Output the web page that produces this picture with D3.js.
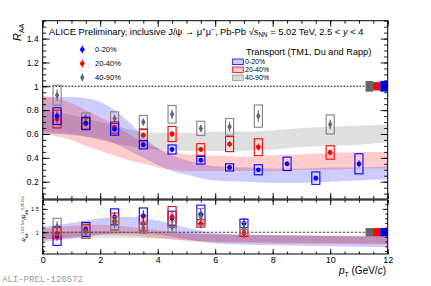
<!DOCTYPE html>
<html>
<head>
<meta charset="utf-8">
<script src="https://cdn.jsdelivr.net/npm/d3@7"></script>
<style>
  body { margin: 0; background: #fff; }
  svg { display: block; font-family: "Liberation Sans", Arial, sans-serif; }
</style>
</head>
<body>
<div id="chart"></div>
<script>
// --- data ---

const ptBlue = [0.5, 1.5, 2.5, 3.5, 4.5, 5.5, 6.5, 7.5, 8.5, 9.5, 11];
const raaBlue = [0.75, 0.69, 0.64, 0.51, 0.47, 0.38, 0.32, 0.30, 0.35, 0.23, 0.35];
const statBlue = [0.04, 0.02, 0.02, 0.015, 0.015, 0.015, 0.015, 0.015, 0.02, 0.02, 0.03];
const sysBlue = [0.07, 0.05, 0.05, 0.035, 0.038, 0.032, 0.03, 0.042, 0.056, 0.052, 0.084];

const ptRed = [0.5, 1.5, 2.5, 3.5, 4.5, 5.5, 6.5, 7.5, 10];
const raaRed = [0.725, 0.685, 0.655, 0.59, 0.60, 0.47, 0.515, 0.49, 0.445];
const statRed = [0.04, 0.02, 0.02, 0.02, 0.025, 0.02, 0.025, 0.03, 0.025];
const sysRed = [0.074, 0.05, 0.048, 0.049, 0.063, 0.049, 0.063, 0.07, 0.056];

const ptGray = [0.5, 1.5, 2.5, 3.5, 4.5, 5.5, 6.5, 7.5, 10];
const raaGray = [0.925, 0.735, 0.73, 0.70, 0.765, 0.647, 0.66, 0.75, 0.68];
const statGray = [0.05, 0.03, 0.03, 0.03, 0.04, 0.03, 0.04, 0.05, 0.04];
const sysGray = [0.084, 0.042, 0.056, 0.056, 0.074, 0.06, 0.07, 0.093, 0.08];

// transport model bands (TM1, Du and Rapp)
const bandPt = [0, 0.5, 1, 1.5, 2, 2.5, 3, 3.5, 4, 4.5, 5, 5.5, 6, 7, 8, 9, 10, 11, 12];
const bandBlueLo = [0.60, 0.60, 0.59, 0.58, 0.56, 0.52, 0.46, 0.40, 0.34, 0.29, 0.26, 0.23, 0.21, 0.20, 0.19, 0.19, 0.20, 0.21, 0.22];
const bandBlueHi = [0.90, 0.91, 0.91, 0.90, 0.87, 0.80, 0.70, 0.58, 0.48, 0.42, 0.38, 0.35, 0.33, 0.32, 0.31, 0.31, 0.32, 0.32, 0.33];
const bandRedLo = [0.60, 0.58, 0.55, 0.50, 0.46, 0.42, 0.38, 0.35, 0.32, 0.30, 0.29, 0.29, 0.29, 0.29, 0.29, 0.30, 0.30, 0.31, 0.31];
const bandRedHi = [0.92, 0.90, 0.86, 0.80, 0.74, 0.67, 0.60, 0.53, 0.48, 0.45, 0.43, 0.42, 0.42, 0.41, 0.42, 0.43, 0.44, 0.45, 0.45];
const bandGrayLo = [0.62, 0.61, 0.60, 0.58, 0.55, 0.52, 0.50, 0.48, 0.47, 0.465, 0.46, 0.46, 0.46, 0.46, 0.47, 0.49, 0.50, 0.51, 0.53];
const bandGrayHi = [0.80, 0.78, 0.76, 0.73, 0.70, 0.67, 0.64, 0.62, 0.61, 0.61, 0.61, 0.61, 0.62, 0.62, 0.63, 0.65, 0.66, 0.67, 0.68];

// ratio 5.02 / 2.76 TeV
const ptRatio = [0.5, 1.5, 2.5, 3.5, 4.5, 5.5, 7];
const ratioBlue = [0.92, 1.06, 1.33, 1.35, 1.30, 1.38, 1.19];
const ratioStatBlue = [0.10, 0.08, 0.10, 0.12, 0.10, 0.12, 0.12];
const ratioSysBlue = [0.20, 0.15, 0.17, 0.17, 0.15, 0.20, 0.09];
const ratioRed = [0.98, 1.02, 1.23, 1.19, 1.33, 1.19, 0.98];
const ratioStatRed = [0.10, 0.08, 0.10, 0.10, 0.12, 0.10, 0.10];
const ratioSysRed = [0.12, 0.15, 0.18, 0.16, 0.22, 0.08, 0.07];
const ratioGray = [1.12, 1.00, 1.19, 1.09, 1.12, 1.33, 1.09];
const ratioStatGray = [0.12, 0.08, 0.10, 0.10, 0.10, 0.12, 0.10];
const ratioSysGray = [0.18, 0.13, 0.14, 0.11, 0.12, 0.18, 0.12];

const ratioBandPt = [0, 1, 2, 3, 4, 5, 6, 8, 10, 12];
const ratioBlueLo = [0.80, 0.86, 0.95, 0.98, 0.95, 0.85, 0.76, 0.72, 0.70, 0.68];
const ratioBlueHi = [1.12, 1.20, 1.30, 1.33, 1.25, 1.10, 0.98, 0.94, 0.92, 0.90];
const ratioRedLo = [0.84, 0.90, 0.94, 0.93, 0.88, 0.82, 0.78, 0.76, 0.75, 0.74];
const ratioRedHi = [1.08, 1.14, 1.16, 1.12, 1.05, 0.98, 0.95, 0.93, 0.92, 0.91];
const ratioGrayLo = [0.85, 0.87, 0.88, 0.88, 0.86, 0.83, 0.80, 0.78, 0.77, 0.76];
const ratioGrayHi = [1.00, 1.01, 1.02, 1.01, 1.00, 0.98, 0.96, 0.94, 0.93, 0.92];

// global uncertainties (gray, red, blue) drawn at R = 1
const globalMain = [0.045, 0.035, 0.045];
const globalRatio = [0.09, 0.09, 0.09];

const legendLabels = ['0-20%', '20-40%', '40-90%'];

// --- layout ---
const W = 431, H = 286;
const L = 42.7, R = 387.7;
const mainTop = 20.7, mainBot = 199, ratTop = 200, ratBot = 254;

const BLUE = '#0000ff', RED = '#ff0000', GRAY = '#666666';

const x = d3.scaleLinear().domain([0, 12]).range([L, R]);
const yM = d3.scaleLinear().domain([0.055, 1.55]).range([mainBot, mainTop]);
const yR = d3.scaleLinear().domain([0.535, 1.69]).range([ratBot, ratTop]);

const svg = d3.select('#chart').append('svg').attr('width', W).attr('height', H);
const defs = svg.append('defs');
defs.append('clipPath').attr('id', 'clip-main').append('rect')
  .attr('x', L).attr('y', mainTop).attr('width', R - L).attr('height', mainBot - mainTop);
defs.append('clipPath').attr('id', 'clip-ratio').append('rect')
  .attr('x', L).attr('y', ratTop).attr('width', R - L).attr('height', ratBot - ratTop);

const gMain = svg.append('g').attr('clip-path', 'url(#clip-main)');
const gRat = svg.append('g').attr('clip-path', 'url(#clip-ratio)');

function drawBand(g, yS, pts, lo, hi, fill) {
  const area = d3.area().curve(d3.curveMonotoneX)
    .x((d, i) => x(pts[i])).y0((d, i) => yS(lo[i])).y1((d, i) => yS(hi[i]));
  g.append('path').datum(lo).attr('d', area).attr('fill', fill);
}

drawBand(gMain, yM, bandPt, bandGrayLo, bandGrayHi, 'rgba(150,150,150,0.3)');
drawBand(gMain, yM, bandPt, bandBlueLo, bandBlueHi, 'rgba(0,0,255,0.2)');
drawBand(gMain, yM, bandPt, bandRedLo, bandRedHi, 'rgba(255,0,0,0.2)');

drawBand(gRat, yR, ratioBandPt, ratioGrayLo, ratioGrayHi, 'rgba(150,150,150,0.3)');
drawBand(gRat, yR, ratioBandPt, ratioBlueLo, ratioBlueHi, 'rgba(0,0,255,0.2)');
drawBand(gRat, yR, ratioBandPt, ratioRedLo, ratioRedHi, 'rgba(255,0,0,0.2)');

// global uncertainty boxes at the right edge
const globalX = [[11.23, 11.49], [11.49, 11.74], [11.74, 12]];
const globalCol = [GRAY, RED, BLUE];
globalX.forEach(([a, b], i) => {
  gMain.append('rect').attr('x', x(a)).attr('width', x(b) - x(a))
    .attr('y', yM(1 + globalMain[i])).attr('height', yM(1 - globalMain[i]) - yM(1 + globalMain[i]))
    .attr('fill', globalCol[i]);
  gRat.append('rect').attr('x', x(a)).attr('width', x(b) - x(a))
    .attr('y', yR(1 + globalRatio[i])).attr('height', yR(1 - globalRatio[i]) - yR(1 + globalRatio[i]))
    .attr('fill', globalCol[i]);
});

// unity lines
gMain.append('line').attr('x1', x(0)).attr('x2', x(11.23)).attr('y1', yM(1)).attr('y2', yM(1))
  .attr('stroke', '#000').attr('stroke-width', 1.1).attr('stroke-dasharray', '1.6,1.6');
gRat.append('line').attr('x1', x(0)).attr('x2', x(11.23)).attr('y1', yR(1)).attr('y2', yR(1))
  .attr('stroke', '#333').attr('stroke-width', 0.9).attr('stroke-dasharray', '2.5,1.5');

function drawSeries(g, yS, pts, vals, stat, sys, col, shape, boxStroke) {
  const hw = 0.14;
  pts.forEach((p, i) => {
    g.append('rect').attr('x', x(p - hw)).attr('width', x(p + hw) - x(p - hw))
      .attr('y', yS(vals[i] + sys[i])).attr('height', yS(vals[i] - sys[i]) - yS(vals[i] + sys[i]))
      .attr('fill', 'none').attr('stroke', boxStroke).attr('stroke-width', 1.1);
  });
  pts.forEach((p, i) => {
    g.append('line').attr('x1', x(p)).attr('x2', x(p))
      .attr('y1', yS(vals[i] + stat[i])).attr('y2', yS(vals[i] - stat[i]))
      .attr('stroke', col).attr('stroke-width', 1);
  });
  g.selectAll(null).data(pts).join('path')
    .attr('transform', (d, i) => `translate(${x(d)},${yS(vals[i])})`)
    .attr('d', d3.symbol().type(shape).size(shape === d3.symbolDiamond ? 17 : 18))
    .attr('fill', col);
}

drawSeries(gMain, yM, ptGray, raaGray, statGray, sysGray, GRAY, d3.symbolDiamond, '#808080');
drawSeries(gMain, yM, ptRed, raaRed, statRed, sysRed, RED, d3.symbolCircle, RED);
drawSeries(gMain, yM, ptBlue, raaBlue, statBlue, sysBlue, BLUE, d3.symbolCircle, BLUE);

drawSeries(gRat, yR, ptRatio, ratioBlue, ratioStatBlue, ratioSysBlue, BLUE, d3.symbolCircle, BLUE);
drawSeries(gRat, yR, ptRatio, ratioRed, ratioStatRed, ratioSysRed, RED, d3.symbolCircle, RED);
drawSeries(gRat, yR, ptRatio, ratioGray, ratioStatGray, ratioSysGray, GRAY, d3.symbolDiamond, '#808080');

// --- frames and axes ---
[[mainTop, mainBot], [ratTop, ratBot]].forEach(([t, b]) => {
  svg.append('rect').attr('x', L).attr('y', t).attr('width', R - L).attr('height', b - t)
    .attr('fill', 'none').attr('stroke', '#000').attr('stroke-width', 1);
});

const noDomain = g => g.select('.domain').remove();
const xMajor = d3.range(0, 12.01, 2);
const xMinor = d3.range(0, 12.01, 0.5);

function xTicks(yPos, up, size) {
  const ax = up ? d3.axisTop(x) : d3.axisBottom(x);
  svg.append('g').attr('transform', `translate(0,${yPos})`)
    .call(ax.tickValues(xMinor).tickSize(size / 2).tickFormat('')).call(noDomain);
  svg.append('g').attr('transform', `translate(0,${yPos})`)
    .call(ax.tickValues(xMajor).tickSize(size).tickFormat('')).call(noDomain);
}
xTicks(mainBot, true, 6);
xTicks(mainTop, false, 6);
xTicks(ratTop, false, 5);

svg.append('g').attr('transform', `translate(0,${ratBot})`)
  .call(d3.axisTop(x).tickValues(xMinor).tickSize(2.5).tickFormat('')).call(noDomain);
svg.append('g').attr('class', 'xlab').attr('transform', `translate(0,${ratBot})`)
  .call(d3.axisBottom(x).tickValues(xMajor).tickSizeInner(-5).tickSizeOuter(0).tickPadding(2.5)
    .tickFormat(d3.format('d')))
  .call(noDomain);

function yTicks(yS, xPos, leftSide, major, minor, size) {
  const ax = leftSide ? d3.axisRight(yS) : d3.axisLeft(yS);
  svg.append('g').attr('transform', `translate(${xPos},0)`)
    .call(ax.tickValues(minor).tickSize(size / 2).tickFormat('')).call(noDomain);
  svg.append('g').attr('transform', `translate(${xPos},0)`)
    .call(ax.tickValues(major).tickSize(size).tickFormat('')).call(noDomain);
}
const yMainMajor = [0.2, 0.4, 0.6, 0.8, 1.0, 1.2, 1.4];
const yMainMinor = d3.range(0.1, 1.551, 0.05).map(v => +v.toFixed(2));
yTicks(yM, L, true, yMainMajor, yMainMinor, 7);
yTicks(yM, R, false, yMainMajor, yMainMinor, 7);

const yRatMajor = [1.0, 1.5];
const yRatMinor = d3.range(0.6, 1.69, 0.1).map(v => +v.toFixed(2));
yTicks(yR, L, true, yRatMajor, yRatMinor, 5);
yTicks(yR, R, false, yRatMajor, yRatMinor, 5);

// y tick labels
svg.append('g').attr('transform', `translate(${L},0)`)
  .call(d3.axisLeft(yM).tickValues(yMainMajor).tickSize(0).tickPadding(4)
    .tickFormat(d => d === 1 ? '1' : d3.format('.1f')(d)))
  .call(noDomain);
svg.append('g').attr('class', 'yrat').attr('transform', `translate(${L},0)`)
  .call(d3.axisLeft(yR).tickValues(yRatMajor).tickSize(0).tickPadding(4)
    .tickFormat(d => d === 1 ? '1' : d3.format('.1f')(d)))
  .call(noDomain);

svg.selectAll('.tick text').attr('fill', '#000').attr('font-family', '"Liberation Sans", Arial, sans-serif')
  .attr('font-size', 8.5);
svg.selectAll('.xlab .tick text').attr('font-size', 9);
svg.selectAll('.yrat .tick text').attr('font-size', 5.5);
svg.selectAll('.tick line').attr('stroke', '#000').attr('stroke-width', 0.9);

// --- titles ---
const yTitle = svg.append('text').attr('transform', 'translate(21,41) rotate(-90)')
  .attr('font-size', 11);
yTitle.append('tspan').attr('font-style', 'italic').text('R');
yTitle.append('tspan').attr('font-size', 7).attr('dy', 2.5).text('AA');

const rTitle = svg.append('text').attr('transform', 'translate(26,219) rotate(-90)')
  .attr('text-anchor', 'middle').attr('font-size', 5);
rTitle.append('tspan').attr('font-style', 'italic').text('R');
rTitle.append('tspan').attr('font-size', 3.5).attr('dy', 1.5).text('AA');
rTitle.append('tspan').attr('font-size', 3.5).attr('dy', -4).text('5.02 TeV');
rTitle.append('tspan').attr('dy', 2.5).text('/');
rTitle.append('tspan').attr('font-style', 'italic').text('R');
rTitle.append('tspan').attr('font-size', 3.5).attr('dy', 1.5).text('AA');
rTitle.append('tspan').attr('font-size', 3.5).attr('dy', -4).text('2.76 TeV');

const xTitle = svg.append('text').attr('x', 386).attr('y', 274).attr('text-anchor', 'end')
  .attr('font-size', 10);
xTitle.append('tspan').attr('font-style', 'italic').text('p');
xTitle.append('tspan').attr('font-size', 7).attr('dy', 2.5).text('T');
xTitle.append('tspan').attr('dy', -2.5).text(' (GeV/');
xTitle.append('tspan').attr('font-style', 'italic').text('c');
xTitle.append('tspan').text(')');

const head = svg.append('text').attr('x', 49).attr('y', 35).attr('font-size', 9.35);
head.append('tspan').text('ALICE Preliminary, inclusive J/ψ → μ');
head.append('tspan').attr('font-size', 6.3).attr('dy', -3).text('+');
head.append('tspan').attr('dy', 3).text('μ');
head.append('tspan').attr('font-size', 6.3).attr('dy', -3).text('−');
head.append('tspan').attr('dy', 3).text(', Pb-Pb √');
head.append('tspan').attr('font-style', 'italic').text('s');
head.append('tspan').attr('font-size', 6.3).attr('dy', 2).text('NN');
head.append('tspan').attr('dy', -2).text(' = 5.02 TeV, 2.5 < ');
head.append('tspan').attr('font-style', 'italic').text('y');
head.append('tspan').text(' < 4');

// marker legend
const markCol = [BLUE, RED, GRAY];
const markShape = [d3.symbolCircle, d3.symbolCircle, d3.symbolDiamond];
legendLabels.forEach((lab, i) => {
  const yy = 49.5 + i * 14;
  svg.append('line').attr('x1', 82.3).attr('x2', 82.3).attr('y1', yy - 4).attr('y2', yy + 4)
    .attr('stroke', markCol[i]).attr('stroke-width', 1);
  svg.append('path').attr('transform', `translate(82.3,${yy})`)
    .attr('d', d3.symbol().type(markShape[i]).size(17)).attr('fill', markCol[i]);
  svg.append('text').attr('x', 95).attr('y', yy + 2.6).attr('font-size', 7.5).text(lab);
});

// model legend
svg.append('text').attr('x', 246).attr('y', 55).attr('font-size', 9.2).text('Transport (TM1, Du and Rapp)');
const boxFill = ['#ccccff', '#ffcccc', '#d9d9d9'];
const boxLine = [BLUE, RED, '#999999'];
legendLabels.forEach((lab, i) => {
  const yy = 59 + i * 8;
  svg.append('rect').attr('x', 232.3).attr('y', yy).attr('width', 11).attr('height', 5.5)
    .attr('fill', boxFill[i]).attr('stroke', boxLine[i]).attr('stroke-width', 0.8);
  svg.append('text').attr('x', 245).attr('y', yy + 5.3).attr('font-size', 7).text(lab);
});

svg.append('text').attr('x', 2).attr('y', 282).attr('font-family', '"Liberation Mono", "DejaVu Sans Mono", monospace')
  .attr('font-size', 9).attr('fill', '#9a9a9a').text('ALI-PREL-126572');
</script>
</body>
</html>
